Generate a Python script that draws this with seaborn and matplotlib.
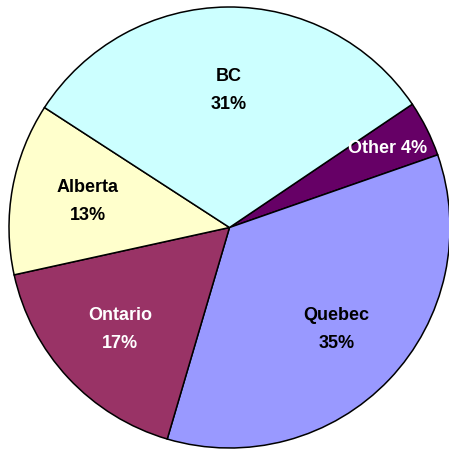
import numpy as np
import matplotlib
matplotlib.use("Agg")
import matplotlib.pyplot as plt
import seaborn as sns

# Data (clockwise order starting at the BC/Other boundary)
categories = ["Other", "Quebec", "Ontario", "Alberta", "BC"]
shares = [4.1, 34.9, 17.0, 12.6, 31.4]
colors = ["#660066", "#9999FF", "#993366", "#FFFFCC", "#CCFFFF"]
text_colors = ["white", "black", "white", "black", "black"]
label_radius = [0.80, 0.668, 0.678, 0.653, 0.62]
single_line = [True, False, False, False, False]

sns.set_theme(style="white")
plt.rcParams["font.family"] = ["Liberation Sans", "DejaVu Sans"]

fig = plt.figure(figsize=(4.49, 4.49), dpi=100)
ax = fig.add_axes([0, 0, 1, 1])
ax.set_axis_off()

wedges, _ = ax.pie(
    shares,
    colors=colors,
    startangle=34.0,
    counterclock=False,
    radius=1.0,
    wedgeprops=dict(edgecolor="black", linewidth=1.1),
)

total = sum(shares)
off = 14.0 / 220.5
for w, name, val, tc, r, single in zip(wedges, categories, shares, text_colors, label_radius, single_line):
    mid = np.deg2rad((w.theta1 + w.theta2) / 2.0)
    x, y = r * np.cos(mid), r * np.sin(mid)
    pct = f"{round(val / total * 100):d}%"
    kw = dict(ha="center", va="center", fontsize=13, fontweight="bold", color=tc)
    if single:
        ax.text(x, y, f"{name} {pct}", **kw)
    else:
        ax.text(x, y + off, name, **kw)
        ax.text(x, y - off, pct, **kw)

ax.set_aspect("equal")
ax.set_xlim(-229.5 / 220.5, (449 - 229.5) / 220.5)
ax.set_ylim(-(449 - 227.5) / 220.5, 227.5 / 220.5)

fig.savefig("out.png", dpi=100, facecolor="white")
